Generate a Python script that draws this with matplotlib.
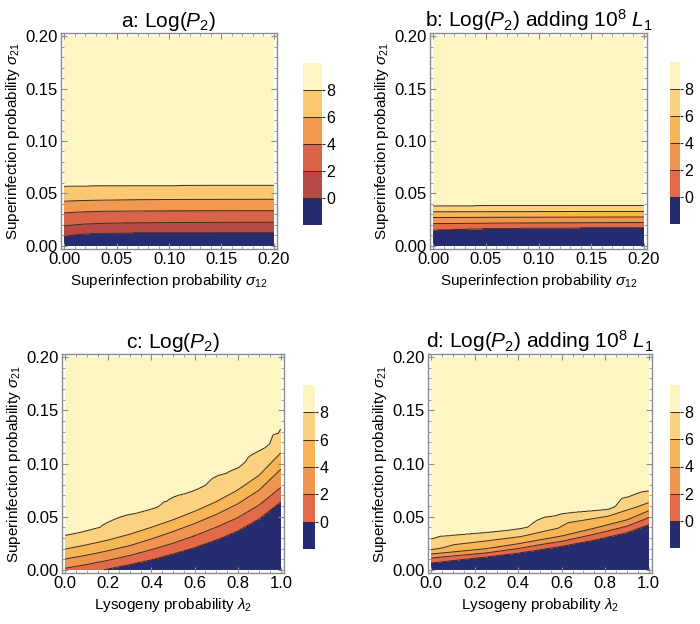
import numpy as np
import matplotlib
matplotlib.use("Agg")
import matplotlib.pyplot as plt

plt.rcParams['font.family'] = ['Liberation Sans', 'DejaVu Sans']
plt.rcParams['mathtext.fontset'] = 'custom'
plt.rcParams['mathtext.rm'] = 'Liberation Sans'
plt.rcParams['mathtext.it'] = 'Liberation Sans:italic'

# contour levels of Log(P2); each boundary is sigma_21 where Log(P2) crosses it
levels = [0, 2, 4, 6, 8]
band_edges = [-2, 0, 2, 4, 6, 8, 10]

# panel a: sigma_12 vs sigma_21
a_x = [0.0, 0.01, 0.02, 0.04, 0.07, 0.10, 0.15, 0.20]
a_lvl0 = [0.0090, 0.0105, 0.0115, 0.0120, 0.0125, 0.0127, 0.0128, 0.0128]
a_lvl2 = [0.0190, 0.0200, 0.0208, 0.0215, 0.0220, 0.0222, 0.0224, 0.0225]
a_lvl4 = [0.0315, 0.0320, 0.0325, 0.0330, 0.0332, 0.0334, 0.0335, 0.0335]
a_lvl6 = [0.0425, 0.0430, 0.0433, 0.0436, 0.0440, 0.0442, 0.0443, 0.0444]
a_lvl8 = [0.0565, 0.0567, 0.0569, 0.0570, 0.0572, 0.0573, 0.0574, 0.0575]

# panel b: sigma_12 vs sigma_21, adding 10^8 L1
b_x = [0.0, 0.05, 0.10, 0.15, 0.20]
b_lvl0 = [0.0151, 0.0165, 0.0170, 0.0173, 0.0176]
b_lvl2 = [0.0212, 0.0216, 0.0219, 0.0221, 0.0223]
b_lvl4 = [0.0270, 0.0272, 0.0273, 0.0274, 0.0275]
b_lvl6 = [0.0325, 0.0326, 0.0327, 0.0328, 0.0328]
b_lvl8 = [0.0380, 0.0381, 0.0382, 0.0383, 0.0384]

# panel c: lambda_2 vs sigma_21
c_x = [0.0, 0.1, 0.2, 0.3, 0.4, 0.5, 0.6, 0.7, 0.8, 0.9, 1.0]
c_lvl0 = [-0.008, -0.004, 0.001, 0.005, 0.0095, 0.015, 0.021, 0.028, 0.0365, 0.048, 0.064]
c_lvl2 = [0.0015, 0.005, 0.009, 0.0135, 0.019, 0.025, 0.032, 0.040, 0.049, 0.061, 0.0775]
c_lvl4 = [0.0102, 0.0138, 0.018, 0.0228, 0.029, 0.036, 0.0435, 0.052, 0.062, 0.075, 0.0946]
c_lvl6 = [0.0195, 0.0235, 0.028, 0.0335, 0.040, 0.047, 0.055, 0.064, 0.075, 0.089, 0.110]
c_x8 = [0.0, 0.069, 0.161, 0.175, 0.191, 0.222, 0.253, 0.283, 0.329, 0.375, 0.421, 0.436,
        0.459, 0.470, 0.482, 0.505, 0.528, 0.559, 0.590, 0.620, 0.651, 0.666, 0.681, 0.712,
        0.743, 0.773, 0.804, 0.835, 0.850, 0.865, 0.896, 0.926, 0.949, 0.965, 0.988, 1.0]
c_lvl8 = [0.0322, 0.0350, 0.0398, 0.0420, 0.0438, 0.0468, 0.0493, 0.0512, 0.0530, 0.0555, 0.0583, 0.0598,
          0.0638, 0.0642, 0.0660, 0.0685, 0.0701, 0.0716, 0.0738, 0.0763, 0.0794, 0.0825, 0.0856, 0.0887,
          0.0903, 0.0934, 0.0959, 0.1012, 0.1058, 0.1080, 0.1114, 0.1145, 0.1183, 0.1270, 0.1282, 0.1322]

# panel d: lambda_2 vs sigma_21, adding 10^8 L1
d_x = [0.0, 0.1, 0.25, 0.4, 0.5, 0.6, 0.75, 0.9, 1.0]
d_lvl0 = [0.0065, 0.0088, 0.0121, 0.0158, 0.0190, 0.0222, 0.0280, 0.0350, 0.0425]
d_lvl2 = [0.0111, 0.0130, 0.0158, 0.0200, 0.0236, 0.0268, 0.0335, 0.0410, 0.0490]
d_lvl4 = [0.0149, 0.0168, 0.0198, 0.0245, 0.0282, 0.0318, 0.0391, 0.0470, 0.0555]
d_x6 = [0.0, 0.05, 0.103, 0.258, 0.413, 0.45, 0.583, 0.629, 0.722, 0.814, 0.876, 0.938, 1.0]
d_lvl6 = [0.0189, 0.0205, 0.0236, 0.0273, 0.0313, 0.0330, 0.0391, 0.0443, 0.0474, 0.0505, 0.0546, 0.0586, 0.0632]
d_x8 = [0.0, 0.042, 0.134, 0.258, 0.351, 0.413, 0.443, 0.467, 0.490, 0.521, 0.567, 0.598,
        0.644, 0.691, 0.752, 0.814, 0.845, 0.876, 0.907, 0.938, 0.969, 1.0]
d_lvl8 = [0.0288, 0.0313, 0.0329, 0.0350, 0.0369, 0.0387, 0.0399, 0.0437, 0.0468, 0.0493, 0.0505, 0.0524,
          0.0536, 0.0545, 0.0555, 0.0567, 0.0592, 0.0670, 0.0685, 0.0710, 0.0732, 0.0740]

a_colors = ['#272b6f', '#b84a45', '#da6449', '#ef9a50', '#fac870', '#fdf6c2']
bcd_colors = ['#272b6f', '#e2694a', '#f09550', '#f7b556', '#fbd27f', '#fdf6c3']


def build_field(xg, yg, boundaries):
    """Piecewise-linear Log(P2) field through the read-off contour boundaries"""
    B = np.array([np.interp(xg, bx, by) for bx, by in boundaries])
    Z = np.empty((len(yg), len(xg)))
    for j in range(len(xg)):
        yp = np.concatenate([[-1.0], B[:, j], [1.0]])
        Z[:, j] = np.interp(yg, yp, [-1.9, 0, 2, 4, 6, 8, 9.9])
    return Z


def px_rect(l, t, r, b):
    return [l / 700, 1 - b / 624, (r - l) / 700, (b - t) / 624]


fig = plt.figure(figsize=(7, 6.24), dpi=100)

panels = [
    dict(title=r'a: Log($P_2$)', xmax=0.2, xlabel=r'Superinfection probability $\sigma_{12}$',
         bounds=[(a_x, a_lvl0), (a_x, a_lvl2), (a_x, a_lvl4), (a_x, a_lvl6), (a_x, a_lvl8)],
         colors=a_colors, rect=(61, 33, 277, 249), crect=(303, 63, 322, 225)),
    dict(title=r'b: Log($P_2$) adding $10^8$ $L_1$', xmax=0.2, xlabel=r'Superinfection probability $\sigma_{12}$',
         bounds=[(b_x, b_lvl0), (b_x, b_lvl2), (b_x, b_lvl4), (b_x, b_lvl6), (b_x, b_lvl8)],
         colors=bcd_colors, rect=(430, 33, 647, 249), crect=(670, 62, 680, 224)),
    dict(title=r'c: Log($P_2$)', xmax=1.0, xlabel=r'Lysogeny probability $\lambda_2$',
         bounds=[(c_x, c_lvl0), (c_x, c_lvl2), (c_x, c_lvl4), (c_x, c_lvl6), (c_x8, c_lvl8)],
         colors=bcd_colors, rect=(62, 354, 284, 573), crect=(303, 385, 315, 549)),
    dict(title=r'd: Log($P_2$) adding $10^8$ $L_1$', xmax=1.0, xlabel=r'Lysogeny probability $\lambda_2$',
         bounds=[(d_x, d_lvl0), (d_x, d_lvl2), (d_x, d_lvl4), (d_x6, d_lvl6), (d_x8, d_lvl8)],
         colors=bcd_colors, rect=(428, 354, 652, 573), crect=(670, 385, 680, 548)),
]

frame_col = '#8c8c8c'
line_col = '#3d2b1f'

for p in panels:
    ax = fig.add_axes(px_rect(*p['rect']))
    xg = np.linspace(0, p['xmax'], 500)
    yg = np.linspace(0, 0.2, 500)
    Z = build_field(xg, yg, p['bounds'])
    cs = ax.contourf(xg, yg, Z, levels=band_edges, colors=p['colors'])
    cl = ax.contour(xg, yg, Z, levels=levels, colors=line_col, linewidths=0.7)

    xpad = 0.015 * p['xmax']
    ax.set_xlim(-xpad, p['xmax'] + xpad)
    ax.set_ylim(-0.003, 0.203)
    if p['xmax'] == 0.2:
        ax.set_xticks([0, 0.05, 0.10, 0.15, 0.20])
        ax.set_xticks(np.arange(0, 0.2001, 0.01), minor=True)
        ax.set_xticklabels(['0.00', '0.05', '0.10', '0.15', '0.20'])
    else:
        ax.set_xticks([0, 0.2, 0.4, 0.6, 0.8, 1.0])
        ax.set_xticks(np.arange(0, 1.0001, 0.05), minor=True)
        ax.set_xticklabels(['0.0', '0.2', '0.4', '0.6', '0.8', '1.0'])
    ax.set_yticks([0, 0.05, 0.10, 0.15, 0.20])
    ax.set_yticks(np.arange(0, 0.2001, 0.01), minor=True)
    ax.set_yticklabels(['0.00', '0.05', '0.10', '0.15', '0.20'])
    ax.tick_params(which='both', direction='in', top=True, right=True, color=frame_col,
                   labelsize=12, pad=2.5)
    ax.tick_params(which='major', length=4.5, width=0.8)
    ax.tick_params(which='minor', length=2.5, width=0.6)
    for s in ax.spines.values():
        s.set_color(frame_col)
        s.set_linewidth(1.0)

    ax.set_title(p['title'], fontsize=15, pad=4)
    ax.set_xlabel(p['xlabel'], fontsize=11, labelpad=3)
    ax.set_ylabel(r'Superinfection probability $\sigma_{21}$', fontsize=11, labelpad=2)

    cax = fig.add_axes(px_rect(*p['crect']))
    cbar = fig.colorbar(cs, cax=cax, ticks=levels)
    cbar.add_lines(cl)
    cbar.outline.set_visible(False)
    cbar.ax.tick_params(direction='out', length=2.5, width=0.8, color=line_col,
                        labelsize=11.5, pad=0.5)

fig.savefig("out.png", dpi=100)
